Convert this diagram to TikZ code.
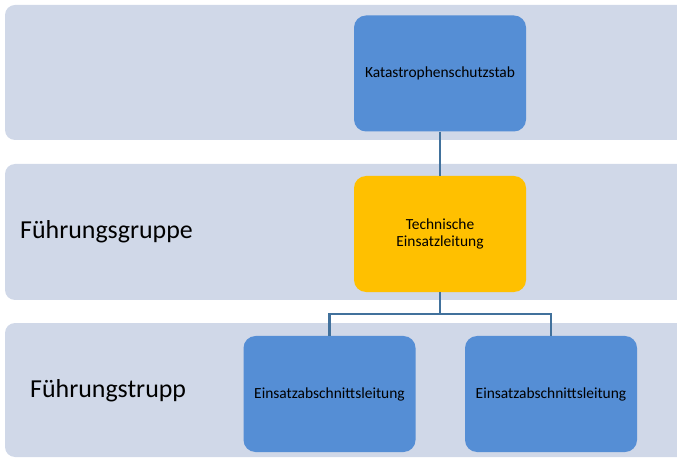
\documentclass[tikz,border=0pt]{standalone}
\usepackage{fontspec}
\setmainfont{Carlito}
\definecolor{bandgrey}{HTML}{D0D8E8}
\definecolor{boxblue}{HTML}{558ED5}
\definecolor{boxyellow}{HTML}{FFC000}
\definecolor{linkblue}{HTML}{41719C}
\begin{document}
\begin{tikzpicture}[x=1bp,y=-1bp,
band/.style={fill=bandgrey,rounded corners=10bp},
unit/.style={fill=boxblue,rounded corners=12bp,minimum width=172bp,minimum height=116bp,inner sep=0pt,align=center,font=\fontsize{15.5}{18}\selectfont},
lead/.style={unit,fill=boxyellow},
level/.style={anchor=west,inner sep=0pt,font=\fontsize{26}{30}\selectfont},
link/.style={draw=linkblue,line width=2.5bp}]
\useasboundingbox (0,0) rectangle (677,459);
\clip (0,0) rectangle (677,459);
% Ebenen
\foreach \t/\b in {5/140,164/300,323/457} \fill[band] (5,\t) rectangle (700,\b);
\node[level] (fg) at (20,232) {Führungsgruppe};
\node[level] (ft) at (30,391) {Führungstrupp};
% Stellen
\node[unit] (kss) at (440,73.5) {Katastrophenschutzstab};
\node[lead] (tel) at (440,234) {Technische\\Einsatzleitung};
\node[unit] (eal1) at (329.5,394) {Einsatzabschnittsleitung};
\node[unit] (eal2) at (551,394) {Einsatzabschnittsleitung};
% Verbindungen
\draw[link] (kss) -- (tel);
\draw[link] (tel.south) -- ++(0,22) coordinate (fork) -| (eal1.north);
\draw[link] (fork) -| (eal2.north);
\end{tikzpicture}
\end{document}
